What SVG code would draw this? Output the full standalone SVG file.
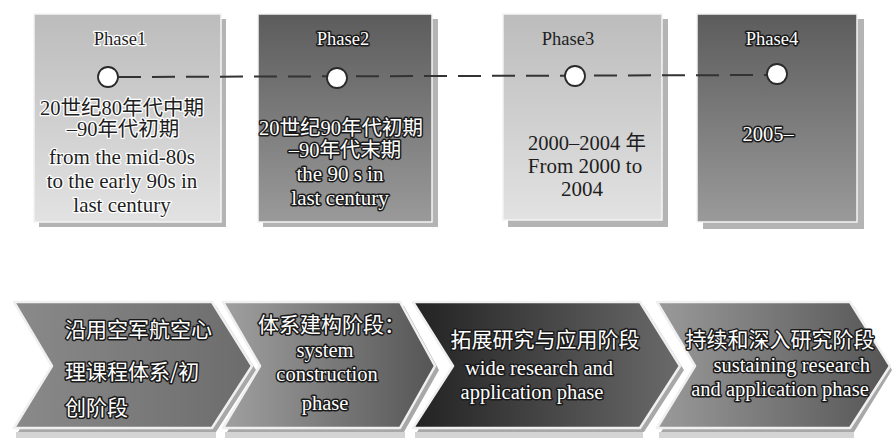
<svg xmlns="http://www.w3.org/2000/svg" width="892" height="438" viewBox="0 0 892 438">
<style>
.en{font-family:"Liberation Serif","Times New Roman",serif;font-size:21px;text-anchor:middle}
.ph{font-family:"Liberation Serif","Times New Roman",serif;font-size:18.5px;text-anchor:middle}
.zh{font-family:"Liberation Serif","Noto Sans CJK SC",serif;font-size:20.5px;text-anchor:middle}
.dk{fill:#1e1e1e;stroke:#ffffff;stroke-width:2.5;paint-order:stroke;stroke-linejoin:round}
.lt{fill:#ffffff;stroke:#1a1a1a;stroke-width:3;paint-order:stroke;stroke-linejoin:round}
.pl{fill:#1e1e1e}
.shadow{fill:#b4b4b4}
.box{stroke:#f4f4f4;stroke-width:1.5}
.chev{stroke:#f0f0f0;stroke-width:2.5;stroke-linejoin:round}
.chsh{fill:#a8a8a8}
.zc{font-family:"Noto Sans CJK SC",sans-serif;font-size:21px}
.ec{font-family:"Liberation Serif","Times New Roman",serif;font-size:20.5px}
.refl{fill:#d4d4d4}
.dot{fill:#ffffff;stroke:#2a2a2a;stroke-width:1.8}
</style>
<defs>
<linearGradient id="gl" x1="0" y1="0" x2="0" y2="1"><stop offset="0" stop-color="#bcbcbc"/><stop offset="1" stop-color="#e2e2e2"/></linearGradient>
<linearGradient id="gd" x1="0" y1="0" x2="0" y2="1"><stop offset="0" stop-color="#5c5c5c"/><stop offset="1" stop-color="#9a9a9a"/></linearGradient>
<linearGradient id="c1" x1="0" y1="0" x2="1" y2="0"><stop offset="0" stop-color="#8a8a8a"/><stop offset="1" stop-color="#6c6c6c"/></linearGradient>
<linearGradient id="c2" x1="0" y1="0" x2="1" y2="0"><stop offset="0" stop-color="#a0a0a0"/><stop offset="1" stop-color="#555555"/></linearGradient>
<linearGradient id="c3" x1="0" y1="0" x2="1" y2="0"><stop offset="0" stop-color="#222222"/><stop offset="1" stop-color="#6a6a6a"/></linearGradient>
<linearGradient id="c4" x1="0" y1="0" x2="1" y2="0"><stop offset="0" stop-color="#9a9a9a"/><stop offset="1" stop-color="#555555"/></linearGradient>
</defs>
<rect width="892" height="438" fill="#ffffff"/>

<g id="phase1">
<rect class="shadow" x="39" y="19" width="187" height="208"/>
<rect class="box" x="34" y="14" width="187" height="208" fill="url(#gl)"/>
<text class="ph dk" x="120" y="45">Phase1</text>
<text class="zh dk" x="122" y="115">20世纪80年代中期</text>
<text class="zh dk" x="123" y="136">–90年代初期</text>
<text class="en dk" x="122" y="164">from the mid-80s</text>
<text class="en dk" x="122" y="188">to the early 90s in</text>
<text class="en dk" x="122" y="212">last century</text>
</g>

<g id="phase2">
<rect class="shadow" x="263" y="19" width="175" height="208"/>
<rect class="box" x="258" y="14" width="174" height="208" fill="url(#gd)"/>
<text class="ph lt" x="343" y="45">Phase2</text>
<text class="zh lt" x="341" y="135">20世纪90年代初期</text>
<text class="zh lt" x="345" y="157">–90年代末期</text>
<text class="en lt" x="340" y="181">the 90 s in</text>
<text class="en lt" x="340" y="205">last century</text>
</g>

<g id="phase3">
<rect class="shadow" x="508" y="19" width="160" height="208"/>
<rect class="box" x="503" y="14" width="159" height="206" fill="url(#gl)"/>
<text class="ph pl" x="568" y="45">Phase3</text>
<text class="zh pl" x="587" y="150">2000–2004 年</text>
<text class="en pl" x="585" y="173">From 2000 to</text>
<text class="en pl" x="582" y="196">2004</text>
</g>

<g id="phase4">
<rect class="shadow" x="703" y="19" width="161" height="210"/>
<rect class="box" x="697" y="14" width="160" height="208" fill="url(#gd)"/>
<text class="ph lt" x="772" y="45">Phase4</text>
<text class="zh lt" x="768" y="141">2005–</text>
</g>

<g id="connectors">
<line x1="118" y1="77" x2="767" y2="75" stroke="#333333" stroke-width="2" stroke-dasharray="23,11"/>
</g>
<g id="dots">
<circle class="dot" cx="108" cy="77" r="10"/>
<circle class="dot" cx="337" cy="78" r="10"/>
<circle class="dot" cx="575" cy="76" r="10"/>
<circle class="dot" cx="777" cy="74" r="10"/>
</g>

<g id="stage1">
<rect class="refl" x="16" y="432" width="200" height="6"/>
<polygon class="chsh" points="18,306 216,306 256,370 216,432 18,432 56,370"/>
<polygon class="chev" fill="url(#c1)" points="14,302 212,302 252,366 212,428 14,428 52,366"/>
<text class="zc lt" x="65" y="337">沿用空军航空心</text>
<text class="zc lt" x="65" y="379">理课程体系/初</text>
<text class="zc lt" x="65" y="415">创阶段</text>
</g>

<g id="stage2">
<rect class="refl" x="225" y="432" width="180" height="6"/>
<polygon class="chsh" points="227,306 404,306 439,370 404,432 227,432 264,370"/>
<polygon class="chev" fill="url(#c2)" points="223,302 400,302 435,366 400,428 223,428 260,366"/>
<text class="zc lt" x="258" y="332">体系建构阶段：</text>
<text class="ec lt" x="325" y="357" text-anchor="middle">system</text>
<text class="ec lt" x="327" y="381" text-anchor="middle">construction</text>
<text class="ec lt" x="325" y="410" text-anchor="middle">phase</text>
</g>

<g id="stage3">
<rect class="refl" x="415" y="432" width="228" height="6"/>
<polygon class="chsh" points="417,306 644,306 684,370 644,432 417,432 457,370"/>
<polygon class="chev" fill="url(#c3)" points="413,302 640,302 680,366 640,428 413,428 453,366"/>
<text class="zc lt" x="545" y="347" text-anchor="middle">拓展研究与应用阶段</text>
<text class="ec lt" x="539" y="375" text-anchor="middle">wide research and</text>
<text class="ec lt" x="532" y="399" text-anchor="middle">application phase</text>
</g>

<g id="stage4">
<rect class="refl" x="659" y="432" width="195" height="6"/>
<polygon class="chsh" points="661,306 854,306 892,370 854,432 661,432 699,370"/>
<polygon class="chev" fill="url(#c4)" points="657,302 850,302 890,366 850,428 657,428 695,366"/>
<text class="zc lt" x="780" y="347" text-anchor="middle">持续和深入研究阶段</text>
<text class="ec lt" x="870" y="372" text-anchor="end">sustaining research</text>
<text class="ec lt" x="780" y="396" text-anchor="middle">and application phase</text>
</g>
</svg>
